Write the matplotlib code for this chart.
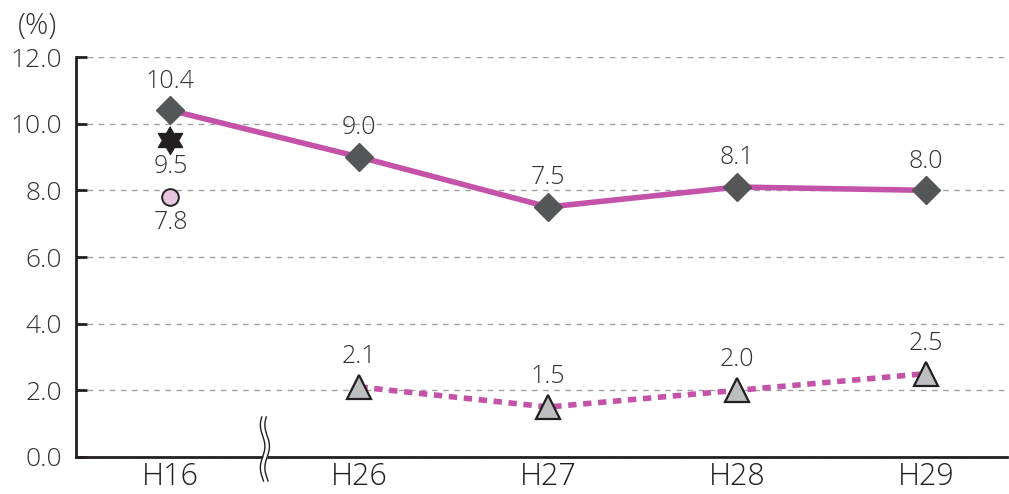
import numpy as np
import matplotlib.pyplot as plt
import matplotlib.transforms as mtransforms

plt.rcParams['font.family'] = ['Open Sans', 'Noto Sans CJK JP', 'DejaVu Sans']
plt.rcParams['font.weight'] = 300

# data
years = ['H16', 'H26', 'H27', 'H28', 'H29']
main_vals = [10.4, 9.0, 7.5, 8.1, 8.0]
sub_years = [1, 2, 3, 4]
sub_vals = [2.1, 1.5, 2.0, 2.5]
star_val = 9.5
circle_val = 7.8
yticks = [0, 2, 4, 6, 8, 10, 12]

line_col = '#C452A8'
text_col = '#333333'

# six-pointed star shape
ang = np.pi / 2 + np.arange(12) * np.pi / 6
rad = np.where(np.arange(12) % 2 == 0, 1.0, 1 / np.sqrt(3))
hexagram = list(zip(rad * np.cos(ang), rad * np.sin(ang)))

fig = plt.figure(figsize=(10.09, 4.94), dpi=100)
ax = fig.add_axes([0.0753, 0.0749, 0.923, 0.8097])

x = np.arange(len(years))
ax.plot(x, main_vals, color=line_col, lw=4, zorder=3)
ax.plot(x, main_vals, ls='none', marker='D', ms=14, mfc='#555658', mec='#555658', zorder=4)
ax.plot(sub_years, sub_vals, color=line_col, lw=4, ls=(0, (1.5, 1.2)), zorder=3)
ax.plot(sub_years, sub_vals, ls='none', marker='^', ms=17, mfc='#BDBEC0', mec='#231F20', mew=1.6, zorder=4)

ax.plot([0], [star_val], ls='none', marker=hexagram, ms=20, mfc='#231F20', mec='#231F20', zorder=4)
ax.plot([0], [circle_val], ls='none', marker='o', ms=12, mfc='#E8C5DF', mec='#231F20', mew=1.4, zorder=4)

# labels
fs = 18
for xi, v in zip(x, main_vals):
    ax.annotate(f'{v:.1f}', (xi, v), xytext=(0, 12), textcoords='offset points',
                ha='center', va='bottom', fontsize=fs, color=text_col)
for xi, v in zip(sub_years, sub_vals):
    ax.annotate(f'{v:.1f}', (xi, v), xytext=(0, 13), textcoords='offset points',
                ha='center', va='bottom', fontsize=fs, color=text_col)
ax.annotate(f'{star_val:.1f}', (0, star_val), xytext=(0, -10), textcoords='offset points',
            ha='center', va='top', fontsize=fs, color=text_col)
ax.annotate(f'{circle_val:.1f}', (0, circle_val), xytext=(0, -9), textcoords='offset points',
            ha='center', va='top', fontsize=fs, color=text_col)

ax.set_xlim(-0.5, 4.43)
ax.set_ylim(0, 12)
ax.set_yticks(yticks)
ax.set_yticklabels([f'{t:.1f}' for t in yticks], fontsize=19, color=text_col)
ax.set_xticks(x)
ax.set_xticklabels(years, fontsize=22, color='#231F20')
ax.tick_params(axis='y', direction='in', length=8, width=2, color='#231F20', pad=10)
ax.tick_params(axis='x', length=0, pad=3)
ax.grid(axis='y', color='#A0A0A0', ls=(0, (4, 4)), lw=1)
ax.set_axisbelow(True)
for s in ['top', 'right']:
    ax.spines[s].set_visible(False)
for s in ['left', 'bottom']:
    ax.spines[s].set_linewidth(2)
    ax.spines[s].set_color('#231F20')

ax.text(-0.041, 1.04, '(%)', transform=ax.transAxes, ha='center', va='bottom',
        fontsize=21, color=text_col)

# axis break mark
tr = mtransforms.blended_transform_factory(ax.transData, ax.transAxes)
t = np.linspace(-0.06, 0.1, 80)
wave = 0.012 * np.sin(t / 0.16 * 3 * np.pi)
bx = 0.5
ax.fill_betweenx(t, bx - 0.012 + wave, bx + 0.012 + wave, transform=tr, color='white',
                 zorder=5, clip_on=False, lw=0)
ax.plot(bx - 0.012 + wave, t, transform=tr, color='#231F20', lw=1, clip_on=False, zorder=6)
ax.plot(bx + 0.012 + wave, t, transform=tr, color='#231F20', lw=1, clip_on=False, zorder=6)

fig.savefig('out.png', dpi=100)
